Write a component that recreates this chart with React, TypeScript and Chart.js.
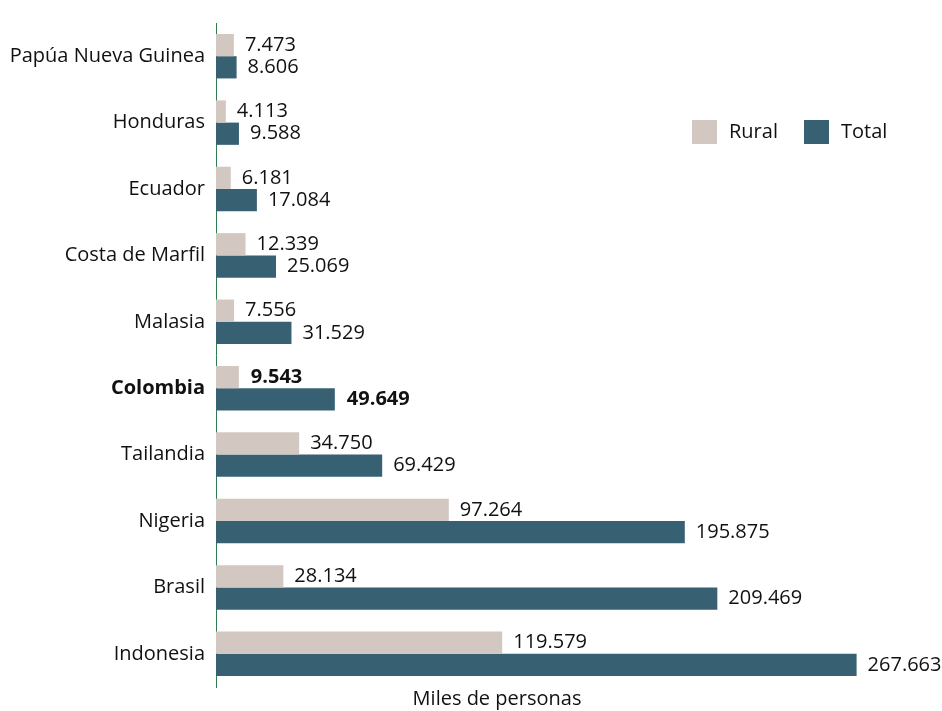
import React, { useEffect, useRef } from "react";
import { Chart, registerables } from "chart.js";

Chart.register(...registerables);

const categories = [
  "Papúa Nueva Guinea",
  "Honduras",
  "Ecuador",
  "Costa de Marfil",
  "Malasia",
  "Colombia",
  "Tailandia",
  "Nigeria",
  "Brasil",
  "Indonesia",
];
const ruralValues = [7473, 4113, 6181, 12339, 7556, 9543, 34750, 97264, 28134, 119579];
const totalValues = [8606, 9588, 17084, 25069, 31529, 49649, 69429, 195875, 209469, 267663];
const highlightIndex = 5;
const axisTitle = "Miles de personas";

const FONT = "'Open Sans', 'Noto Sans', sans-serif";
const FONT_SIZE = 20;
const RURAL_COLOR = "#d3c7c2";
const TOTAL_COLOR = "#386073";
const AXIS_COLOR = "#2e7d4f";
const TEXT_COLOR = "#111111";

function fmt(v: number): string {
  return Math.round(v)
    .toString()
    .replace(/\B(?=(\d{3})+(?!\d))/g, ".");
}

const valueLabels = {
  id: "valueLabels",
  afterDatasetsDraw(chart: any) {
    const ctx = chart.ctx;
    ctx.save();
    ctx.textBaseline = "middle";
    ctx.textAlign = "left";
    ctx.fillStyle = TEXT_COLOR;
    chart.data.datasets.forEach((ds: any, di: number) => {
      const meta = chart.getDatasetMeta(di);
      meta.data.forEach((el: any, i: number) => {
        const bold = i === highlightIndex;
        ctx.font = `${bold ? "bold " : ""}${FONT_SIZE}px ${FONT}`;
        ctx.fillText(fmt(ds.data[i]), el.x + (bold ? 12 : 11), el.y);
      });
    });
    ctx.restore();
  },
};

const customLegend = {
  id: "customLegend",
  afterDraw(chart: any) {
    const ctx = chart.ctx;
    ctx.save();
    ctx.font = `${FONT_SIZE}px ${FONT}`;
    ctx.textBaseline = "middle";
    ctx.textAlign = "left";
    const starts = [692, 804];
    const cy = 132;
    chart.data.datasets.forEach((ds: any, i: number) => {
      const x = starts[i];
      ctx.fillStyle = ds.backgroundColor;
      ctx.fillRect(x, cy - 12, 25, 24);
      ctx.fillStyle = TEXT_COLOR;
      ctx.fillText(ds.label, x + 37, cy);
    });
    // x axis title
    ctx.textAlign = "center";
    ctx.fillText(axisTitle, 497, 699);
    ctx.restore();
  },
};

export default function App() {
  const ref = useRef<HTMLCanvasElement>(null);
  useEffect(() => {
    if (!ref.current) return;
    const chart = new Chart(ref.current, {
      type: "bar",
      data: {
        labels: categories,
        datasets: [
          {
            label: "Rural",
            data: ruralValues,
            backgroundColor: RURAL_COLOR,
            categoryPercentage: 0.67,
            barPercentage: 1,
          },
          {
            label: "Total",
            data: totalValues,
            backgroundColor: TOTAL_COLOR,
            categoryPercentage: 0.67,
            barPercentage: 1,
          },
        ],
      },
      options: {
        indexAxis: "y",
        animation: false,
        responsive: false,
        layout: { padding: { top: 19, bottom: 24, left: 0, right: 8 } },
        plugins: {
          legend: { display: false },
          tooltip: { enabled: false },
        },
        scales: {
          x: {
            display: false,
            min: 0,
            max: 300000,
          },
          y: {
            grid: { display: false, drawTicks: false },
            border: { display: true, color: AXIS_COLOR, width: 1 },
            afterFit: (s: any) => {
              s.width = 216;
            },
            ticks: {
              padding: 11,
              color: TEXT_COLOR,
              font: (c: any) => ({
                family: FONT,
                size: FONT_SIZE,
                weight: c.index === highlightIndex ? "bold" : "normal",
              }),
            },
          },
        },
      },
      plugins: [valueLabels, customLegend],
    });
    return () => chart.destroy();
  }, []);
  return (
    <div style={{ position: "fixed", left: 0, top: 0, width: 942, height: 711, background: "#fff" }}>
      <canvas ref={ref} width={942} height={711} style={{ width: 942, height: 711 }} />
    </div>
  );
}
